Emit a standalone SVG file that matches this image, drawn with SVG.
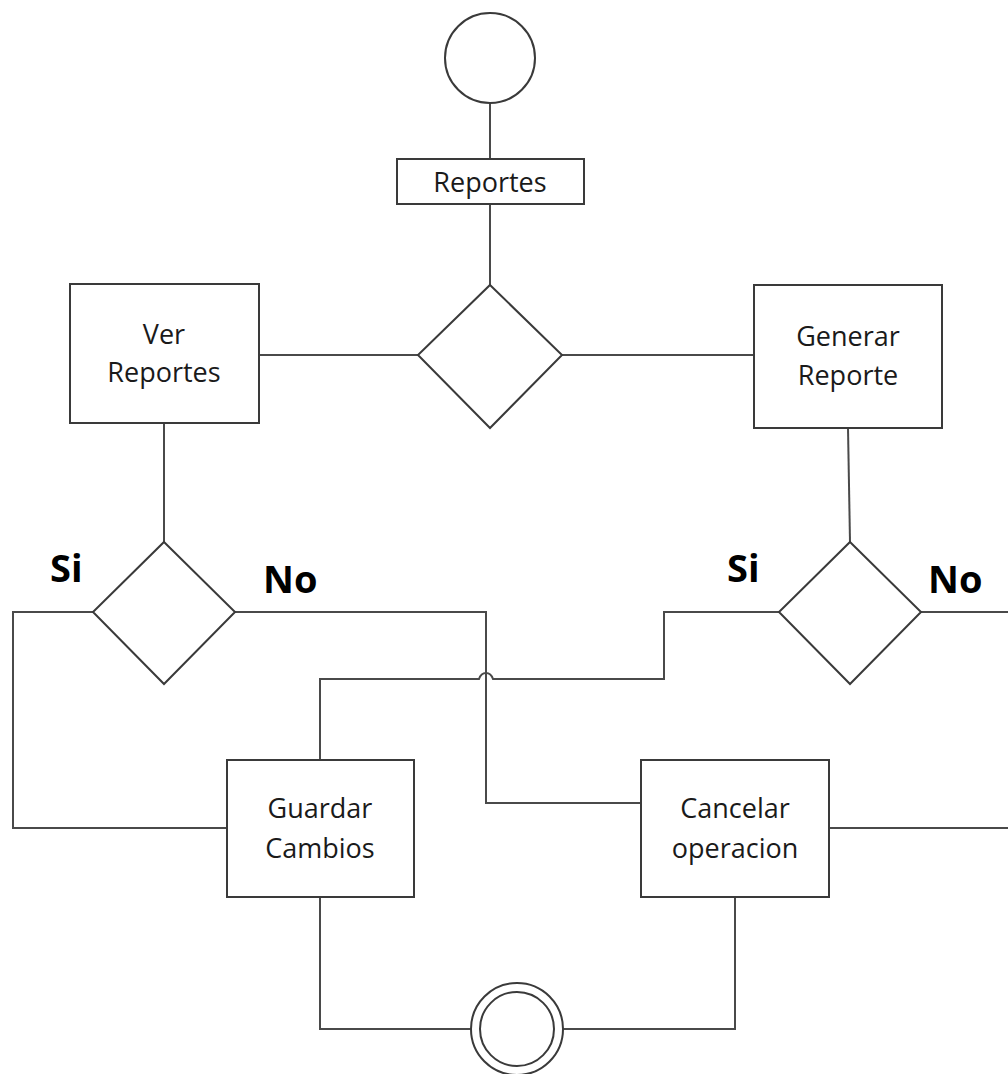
<svg xmlns="http://www.w3.org/2000/svg" width="1008" height="1074" viewBox="0 0 1008 1074">
  <style>
    .shape { fill: #ffffff; stroke: #3a3a3a; stroke-width: 2; }
    .wire { fill: none; stroke: #4a4a4a; stroke-width: 2; }
    .label { font-family: "Open Sans", "Noto Sans", sans-serif; font-size: 27px; fill: #1a1a1a; text-anchor: middle; }
    .branch { font-family: "Open Sans", "Noto Sans", sans-serif; font-size: 38px; font-weight: bold; fill: #000000; }
  </style>

  <!-- connectors -->
  <g id="connectors">
    <path class="wire" d="M490,103 V159"/>
    <path class="wire" d="M490,204 V285"/>
    <path class="wire" d="M259,355 H418"/>
    <path class="wire" d="M562,355 H754"/>
    <path class="wire" d="M164,423 V542"/>
    <path class="wire" d="M848,428 L850,542"/>
    <!-- left decision: Si -->
    <path class="wire" d="M93,612 H13 V828 H227"/>
    <!-- left decision: No -->
    <path class="wire" d="M235,612 H486 V803 H641"/>
    <!-- right decision: Si (hops over the No line) -->
    <path class="wire" d="M779,612 H664 V679 H493 Q491,673 486,673 Q481,673 479,679 H320 V760"/>
    <!-- right decision: No -->
    <path class="wire" d="M921,612 H1008"/>
    <path class="wire" d="M829,828 H1008"/>
    <!-- to final state -->
    <path class="wire" d="M320,897 V1029 H471"/>
    <path class="wire" d="M735,897 V1029 H563"/>
  </g>

  <g id="start">
    <circle class="shape" cx="490" cy="58" r="45"/>
  </g>

  <g id="reportes">
    <rect class="shape" x="397" y="159" width="187" height="45"/>
    <text class="label" x="490" y="192">Reportes</text>
  </g>

  <g id="menu-decision">
    <polygon class="shape" points="490,285 562,355 490,428 418,355"/>
  </g>

  <g id="ver-reportes">
    <rect class="shape" x="70" y="284" width="189" height="139"/>
    <text class="label" x="164" y="344">Ver</text>
    <text class="label" x="164" y="382">Reportes</text>
  </g>

  <g id="generar-reporte">
    <rect class="shape" x="754" y="285" width="188" height="143"/>
    <text class="label" x="848" y="346">Generar</text>
    <text class="label" x="848" y="385">Reporte</text>
  </g>

  <g id="ver-decision">
    <polygon class="shape" points="164,542 235,612 164,684 93,612"/>
    <text class="branch" x="50" y="582">Si</text>
    <text class="branch" x="263" y="593">No</text>
  </g>

  <g id="generar-decision">
    <polygon class="shape" points="850,542 921,612 850,684 779,612"/>
    <text class="branch" x="727" y="582">Si</text>
    <text class="branch" x="928" y="593">No</text>
  </g>

  <g id="guardar-cambios">
    <rect class="shape" x="227" y="760" width="187" height="137"/>
    <text class="label" x="320" y="818">Guardar</text>
    <text class="label" x="320" y="858">Cambios</text>
  </g>

  <g id="cancelar-operacion">
    <rect class="shape" x="641" y="760" width="188" height="137"/>
    <text class="label" x="735" y="818">Cancelar</text>
    <text class="label" x="735" y="858">operacion</text>
  </g>

  <g id="end">
    <circle class="shape" cx="517" cy="1029" r="46"/>
    <circle class="shape" cx="517" cy="1029" r="37"/>
  </g>
</svg>
